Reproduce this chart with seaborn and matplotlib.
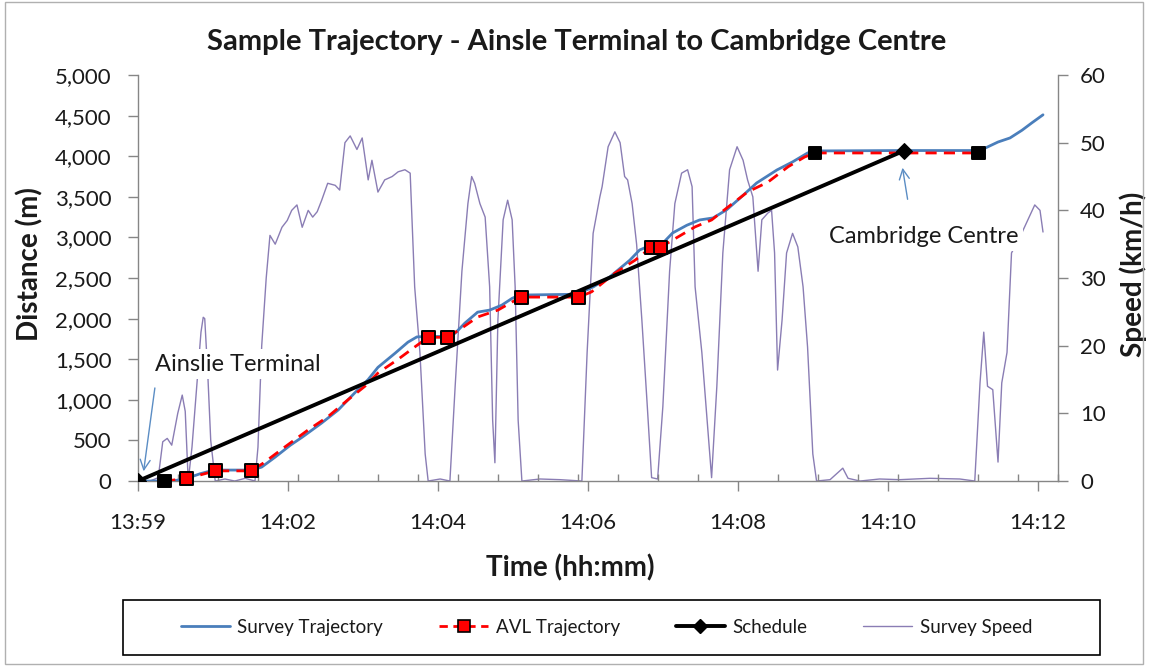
import numpy as np
import pandas as pd
import matplotlib
matplotlib.use("Agg")
import matplotlib.pyplot as plt
import seaborn as sns
from matplotlib.lines import Line2D
from matplotlib.patches import Rectangle
from matplotlib.ticker import StrMethodFormatter

# ---------------- data (time in minutes after the 13:59 tick) ----------------
speed_t = [0.00, 0.16, 0.27, 0.33, 0.39, 0.45, 0.53, 0.59, 0.63, 0.67, 0.72, 0.79, 0.84, 0.87, 0.89,
           0.93, 0.97, 1.03, 1.16, 1.29, 1.43, 1.56, 1.60, 1.65, 1.71, 1.76, 1.83, 1.92, 1.99, 2.05,
           2.12, 2.19, 2.27, 2.33, 2.39, 2.45, 2.53, 2.63, 2.69, 2.76, 2.83, 2.92, 2.99, 3.07, 3.12,
           3.20, 3.29, 3.39, 3.47, 3.56, 3.63, 3.69, 3.76, 3.83, 3.87, 4.03, 4.16, 4.23, 4.32, 4.40,
           4.45, 4.49, 4.56, 4.63, 4.69, 4.73, 4.76, 4.80, 4.87, 4.93, 4.99, 5.03, 5.07, 5.12, 5.36,
           5.63, 5.92, 5.99, 6.07, 6.16, 6.19, 6.27, 6.36, 6.43, 6.49, 6.53, 6.59, 6.65, 6.72, 6.79,
           6.85, 6.93, 7.00, 7.09, 7.16, 7.25, 7.33, 7.39, 7.43, 7.52, 7.59, 7.65, 7.72, 7.80, 7.89,
           7.99, 8.07, 8.13, 8.20, 8.27, 8.32, 8.40, 8.45, 8.49, 8.53, 8.59, 8.65, 8.73, 8.80, 8.87,
           8.93, 9.00, 9.05, 9.23, 9.40, 9.47, 9.63, 9.89, 10.16, 10.56, 10.96, 11.16, 11.23, 11.28,
           11.33, 11.40, 11.47, 11.52, 11.59, 11.65, 11.76, 11.88, 11.96, 12.03, 12.07]
speed_kmh = [0, 0, 0.5, 5.8, 6.3, 5.3, 10, 12.7, 10.3, 0, 5, 15, 22, 24.2, 24,
             16, 6, 0, 0.3, 0, 0.4, 0, 5, 20, 30, 36.3, 35, 37.5, 38.5, 40,
             40.8, 37.5, 40, 39, 39.8, 41.5, 44, 43.7, 43, 50, 51, 49, 50.7, 44.5, 47.4,
             42.7, 44.5, 45, 45.7, 46, 45.5, 28.7, 19, 4, 0, 0.3, 0, 14, 31, 41,
             45, 44, 41, 39, 28.7, 9, 2.7, 23.8, 38.6, 41.5, 38.6, 28.7, 9, 0, 0.3,
             0.2, 0, 19, 36.6, 42, 43.5, 49.4, 51.6, 50, 45, 44.5, 41, 35, 23.8, 11.5,
             0.5, 0.3, 11, 31, 41, 45.5, 46, 43.5, 28.7, 19, 9, 0.5, 14, 33.7, 46,
             49.4, 47.4, 44.5, 42, 31, 38.6, 39.6, 40, 33.7, 16.4, 23.8, 33.7, 36.6, 34.6, 28.7,
             19.8, 4, 0, 0.2, 1.9, 0.4, 0, 0.3, 0.2, 0.4, 0.3, 0, 14.5, 22,
             14, 13.5, 2.8, 14.5, 19, 33.7, 36, 38.9, 40.8, 40, 36.8]

survey_t = [0, 0.29, 0.49, 0.64, 0.83, 0.99, 1.09, 1.52, 1.65, 1.83, 2.03, 2.19, 2.45, 2.67, 2.89,
            3.07, 3.20, 3.43, 3.60, 3.72, 3.85, 4.13, 4.23, 4.36, 4.53, 4.69, 4.85, 4.99, 5.09, 5.85,
            6.07, 6.29, 6.56, 6.69, 6.83, 6.99, 7.13, 7.32, 7.49, 7.67, 7.85, 8.03, 8.25, 8.52, 8.73,
            8.93, 9.03, 10.16, 11.23, 11.47, 11.63, 11.79, 11.92, 12.07]
survey_m = [0, 0, 5, 30, 90, 130, 135, 135, 172, 295, 440, 540, 715, 875, 1085,
            1250, 1400, 1575, 1710, 1775, 1780, 1780, 1820, 1945, 2080, 2105, 2165, 2250, 2290, 2300,
            2390, 2512, 2720, 2845, 2900, 2920, 3055, 3150, 3215, 3240, 3340, 3485, 3670, 3830, 3930,
            4040, 4065, 4070, 4070, 4175, 4225, 4320, 4410, 4510]

avl_t = [0.35, 0.65, 1.03, 1.51, 1.67, 1.96, 2.27, 2.53, 2.80, 3.03, 3.20, 3.47, 3.69, 3.87, 4.13,
         4.32, 4.53, 4.80, 4.99, 5.11, 5.88, 6.05, 6.36, 6.63, 6.85, 6.97, 7.20, 7.43, 7.65, 7.87,
         8.13, 8.40, 8.67, 8.89, 9.03, 11.21]
avl_m = [0, 30, 125, 125, 220, 420, 630, 790, 1000, 1170, 1330, 1500, 1650, 1770, 1770,
         1885, 2020, 2105, 2205, 2265, 2265, 2330, 2560, 2720, 2880, 2880, 3005, 3130, 3215, 3375,
         3560, 3680, 3870, 3990, 4040, 4040]

ping_t = [0.35, 0.65, 1.03, 1.51, 3.87, 4.13, 5.11, 5.88, 6.85, 6.97, 9.03, 11.21]
ping_m = [0, 30, 125, 125, 1770, 1770, 2265, 2265, 2880, 2880, 4040, 4040]
ping_fill = ["black", "red", "red", "red", "red", "red", "red", "red", "red", "red", "black", "black"]

schedule_t = [0, 10.21]
schedule_m = [0, 4065]

tick_pos = [0, 2, 4, 6, 8, 10, 12]
tick_labels = ["13:59", "14:02", "14:04", "14:06", "14:08", "14:10", "14:12"]

# ---------------- figure ----------------
sns.set_theme(style="white")
plt.rcParams["font.family"] = ["Lato", "DejaVu Sans"]
TXT = "#1a1a1a"
GRID = "#868686"

fig = plt.figure(figsize=(11.49, 6.68), dpi=100)
ax = fig.add_axes([0.1201, 0.2799, 0.8007, 0.6078])
ax2 = ax.twinx()
ax.set_zorder(ax2.get_zorder() + 1)
ax.patch.set_visible(False)

speed_df = pd.DataFrame({"t": speed_t, "v": speed_kmh})
survey_df = pd.DataFrame({"t": survey_t, "d": survey_m})
avl_df = pd.DataFrame({"t": avl_t, "d": avl_m})
sched_df = pd.DataFrame({"t": schedule_t, "d": schedule_m})
ping_df = pd.DataFrame({"t": ping_t, "d": ping_m, "fill": ping_fill})

SPEED_C = "#8A7DB4"
SURVEY_C = "#4A7EBB"

sns.lineplot(data=speed_df, x="t", y="v", ax=ax2, color=SPEED_C, lw=1.0,
             sort=False, estimator=None)
sns.lineplot(data=survey_df, x="t", y="d", ax=ax, color=SURVEY_C, lw=2.0,
             sort=False, estimator=None, zorder=3)
sns.lineplot(data=avl_df, x="t", y="d", ax=ax, color="#FF0000", lw=2.0,
             sort=False, estimator=None, zorder=4, dashes=False)
ax.lines[-1].set_linestyle((0, (4, 2.6)))
sns.lineplot(data=sched_df, x="t", y="d", ax=ax, color="black", lw=2.8,
             sort=False, estimator=None, zorder=5, marker="D", markersize=8,
             markeredgecolor="black")
sns.scatterplot(data=ping_df, x="t", y="d", ax=ax, hue="fill",
                palette={"red": "#FF0000", "black": "black"}, marker="s", s=85,
                edgecolor="black", linewidth=1.4, zorder=6, legend=False, clip_on=False)

# ---------------- axes ----------------
ax.set_xlim(0, 12.27)
ax.set_ylim(0, 5000)
ax2.set_ylim(0, 60)
ax.set_yticks(range(0, 5001, 500))
ax.yaxis.set_major_formatter(StrMethodFormatter("{x:,.0f}"))
ax2.set_yticks(range(0, 61, 10))
ax.set_xticks(tick_pos)
ax.set_xticklabels(tick_labels)
ax.set_xticks(np.arange(0, 12.3, 40 / 75), minor=True)

for a in (ax, ax2):
    for s in a.spines.values():
        s.set_color(GRID)
        s.set_linewidth(1.0)
    a.spines["top"].set_visible(False)
    a.grid(False)
ax.spines["right"].set_visible(False)
ax2.spines["left"].set_visible(False)
ax2.spines["bottom"].set_visible(False)

ax.tick_params(axis="y", direction="out", length=7, width=1, color=GRID,
               labelsize=16, labelcolor=TXT, pad=12, left=True)
ax2.tick_params(axis="y", direction="out", length=7, width=1, color=GRID,
                labelsize=16, labelcolor=TXT, pad=9, right=True)
ax.tick_params(axis="x", which="major", direction="out", length=7, width=1, color=GRID,
               labelsize=16, labelcolor=TXT, pad=16, bottom=True)
ax.tick_params(axis="x", which="minor", direction="in", length=5, width=1, color=GRID,
               bottom=True)

LBL = dict(fontsize=20, fontweight="bold", color=TXT)
ax.set_xlabel("Time (hh:mm)", va="center", ha="center", **LBL)
ax.xaxis.set_label_coords(0.47, -0.214)
ax.set_ylabel("Distance (m)", va="center", ha="center", **LBL)
ax.yaxis.set_label_coords(-0.117, 0.535)
ax2.set_ylabel("Speed (km/h)", va="center", ha="center", **LBL)
ax2.yaxis.set_label_coords(1.0815, 0.51)

# ---------------- annotations ----------------
ax.text(1.33, 1440, "Ainslie Terminal", fontsize=17, color=TXT, ha="center", va="center",
        zorder=7, bbox=dict(facecolor="white", edgecolor="none", pad=3))
ax.annotate("", xy=(0.07, 86), xytext=(0.23, 1180),
            arrowprops=dict(arrowstyle="->", color="#5B8DC4", lw=1.0, mutation_scale=18),
            zorder=7)
ax.text(10.48, 3017, "Cambridge Centre", fontsize=17, color=TXT, ha="center", va="center",
        zorder=7, bbox=dict(facecolor="white", edgecolor="none", pad=3))
ax.annotate("", xy=(10.19, 3892), xytext=(10.27, 3436),
            arrowprops=dict(arrowstyle="->", color="#5B8DC4", lw=1.0, mutation_scale=18),
            zorder=7)

fig.text(0.502, 0.937, "Sample Trajectory - Ainsle Terminal to Cambridge Centre",
         fontsize=21, fontweight="bold", color=TXT, ha="center", va="center")

# ---------------- legend ----------------
handles = [
    Line2D([], [], color=SURVEY_C, lw=2.0),
    Line2D([], [], color="#FF0000", lw=2.0, linestyle=(0, (3, 2)), marker="s", markersize=8,
           markerfacecolor="#FF0000", markeredgecolor="black", markeredgewidth=1.2),
    Line2D([], [], color="black", lw=2.8, marker="D", markersize=7, markerfacecolor="black"),
    Line2D([], [], color=SPEED_C, lw=1.0),
]
labels = ["Survey Trajectory", "AVL Trajectory", "Schedule", "Survey Speed"]
fig.legend(handles, labels, loc="center", bbox_to_anchor=(0.528, 0.061), ncol=4,
           frameon=False, fontsize=13.5, handlelength=2.6, columnspacing=3.0,
           handletextpad=0.4, labelcolor=TXT)
fig.patches.append(Rectangle((123 / 1149, 1 - 655 / 668), (1100 - 123) / 1149, 55 / 668,
                             transform=fig.transFigure, fill=False, edgecolor="black",
                             lw=1.2))
fig.patches.append(Rectangle((5 / 1149, 4 / 668), 1138 / 1149, 662 / 668,
                             transform=fig.transFigure, fill=False, edgecolor="#B0B0B0",
                             lw=1.0))

fig.savefig("out.png", dpi=100, facecolor="white")
